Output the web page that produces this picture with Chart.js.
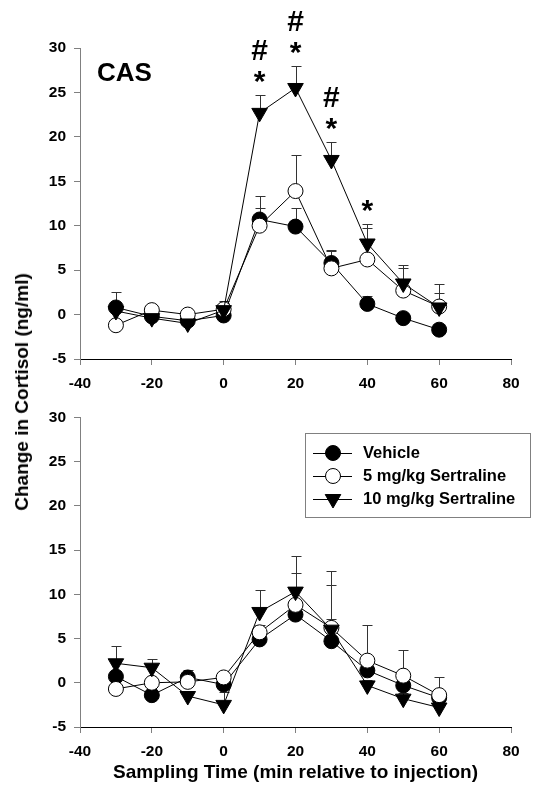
<!DOCTYPE html>
<html>
<head>
<meta charset="utf-8">
<script src="https://cdn.jsdelivr.net/npm/chart.js@4.4.0/dist/chart.umd.min.js"></script>
<style>
  body { margin: 0; background: #fff; }
  #wrap { position: relative; width: 541px; height: 788px; overflow: hidden;
          font-family: "Liberation Sans", Arial, sans-serif; }
  canvas { position: absolute; left: 0; }
  #topChart { top: 0; }
  #bottomChart { top: 400px; }
  #ytitle { position: absolute; left: 22px; top: 392px; white-space: nowrap;
            font-weight: bold; font-size: 19px;
            transform: translate(-50%, -50%) rotate(-90deg); }
  #cas { position: absolute; left: 97px; top: 57px; font-weight: bold; font-size: 26px; }
</style>
</head>
<body>
<div id="wrap">
  <canvas id="topChart" width="541" height="400"></canvas>
  <canvas id="bottomChart" width="541" height="388"></canvas>
  <div id="ytitle">Change in Cortisol (ng/ml)</div>
  <div id="cas">CAS</div>
</div>
<script>
// sampling times (min)
const times = [-30, -20, -10, 0, 10, 20, 30, 40, 50, 60];
const seriesNames = ["Vehicle", "5 mg/kg Sertraline", "10 mg/kg Sertraline"];

// top panel (CAS)
const casVehicle = [0.8, -0.2, -0.7, -0.1, 10.7, 9.9, 5.8, 1.2, -0.4, -1.7];
const casVehicleErr = [1.7, 0.5, 0.4, 1.0, 2.6, 2.1, 1.5, 0.9, 0.3, 0.3];
const cas5 = [-1.2, 0.5, 0.0, 0.6, 10.0, 13.9, 5.2, 6.2, 2.7, 0.9];
const cas5Err = [0.5, 0.4, 0.3, 0.9, 2.0, 4.1, 2.0, 3.5, 2.5, 1.5];
const cas10 = [0.4, -0.4, -1.0, 0.5, 22.7, 25.5, 17.4, 8.0, 3.5, 0.8];
const cas10Err = [0.8, 0.5, 0.4, 0.8, 2.0, 2.5, 2.0, 2.2, 2.1, 2.6];
const starTimes = [10, 20, 30, 40];
const hashTimes = [10, 20, 30];

// bottom panel
const botVehicle = [0.7, -1.4, 0.6, -0.2, 4.9, 7.7, 4.7, 1.4, -0.3, -1.7];
const botVehicleErr = [0.6, 0.5, 0.8, 0.5, 0.6, 0.8, 2.5, 0.8, 0.6, 0.5];
const bot5 = [-0.7, 0.0, 0.1, 0.6, 5.7, 8.8, 6.2, 2.5, 0.8, -1.4];
const bot5Err = [0.5, 0.5, 0.5, 0.5, 0.8, 3.6, 6.4, 4.0, 2.9, 2.0];
const bot10 = [2.2, 1.7, -1.5, -2.5, 8.0, 10.3, 6.0, -0.3, -1.8, -2.8];
const bot10Err = [1.9, 1.0, 0.6, 1.4, 2.5, 4.0, 5.1, 0.6, 0.6, 0.6];

const FONT = "'Liberation Sans', Arial, sans-serif";

function makeDatasets(v, vErr, s5, s5Err, s10, s10Err) {
  const pts = (arr) => arr.map((y, i) => ({ x: times[i], y: y }));
  return [
    { label: seriesNames[0], data: pts(v), errors: vErr, order: 3,
      borderColor: "#000", borderWidth: 1, pointStyle: "circle", pointRadius: 7.5,
      pointBackgroundColor: "#000", pointBorderColor: "#000", pointBorderWidth: 1 },
    { label: seriesNames[1], data: pts(s5), errors: s5Err, order: 2,
      borderColor: "#000", borderWidth: 1, pointStyle: "circle", pointRadius: 7.5,
      pointBackgroundColor: "#fff", pointBorderColor: "#000", pointBorderWidth: 1 },
    { label: seriesNames[2], data: pts(s10), errors: s10Err, order: 1,
      borderColor: "#000", borderWidth: 1, pointStyle: "triangle", pointRotation: 180,
      pointRadius: 9, pointBackgroundColor: "#000", pointBorderColor: "#000", pointBorderWidth: 1 }
  ];
}

// upward error bars, under the markers
const errorBars = {
  id: "errorBars",
  beforeDatasetsDraw(chart) {
    const { ctx, scales: { x, y } } = chart;
    ctx.save();
    ctx.strokeStyle = "#333";
    ctx.lineWidth = 1;
    chart.data.datasets.forEach((ds) => {
      ds.data.forEach((p, i) => {
        const px = Math.round(x.getPixelForValue(p.x)) + 0.5;
        const py = y.getPixelForValue(p.y);
        const top = Math.round(y.getPixelForValue(p.y + ds.errors[i])) + 0.5;
        ctx.beginPath();
        ctx.moveTo(px, py);
        ctx.lineTo(px, top);
        ctx.moveTo(px - 5, top);
        ctx.lineTo(px + 5, top);
        ctx.stroke();
      });
    });
    ctx.restore();
  }
};

// significance marks over the 10 mg/kg series (top panel)
const sigMarks = {
  id: "sigMarks",
  afterDatasetsDraw(chart) {
    const { ctx, scales: { x, y } } = chart;
    ctx.save();
    ctx.fillStyle = "#000";
    ctx.textAlign = "center";
    ctx.textBaseline = "middle";
    ctx.font = "bold 30px " + FONT;
    times.forEach((t, i) => {
      const px = x.getPixelForValue(t);
      const top = y.getPixelForValue(cas10[i] + cas10Err[i]);
      if (starTimes.includes(t)) ctx.fillText("*", px, top - 12);
      if (hashTimes.includes(t)) ctx.fillText("#", px, top - 43);
    });
    ctx.restore();
  }
};

// boxed legend with line + marker samples (bottom panel)
const boxLegend = {
  id: "boxLegend",
  afterDraw(chart) {
    const ctx = chart.ctx;
    const bx = 305, by = 33, bw = 225, bh = 84;
    const rows = [53, 76, 99];
    ctx.save();
    ctx.strokeStyle = "#808080";
    ctx.lineWidth = 1;
    ctx.strokeRect(bx + 0.5, by + 0.5, bw, bh);
    ctx.font = "bold 16.5px " + FONT;
    ctx.textBaseline = "middle";
    ctx.textAlign = "left";
    chart.data.datasets.forEach((ds, i) => {
      const ry = rows[i];
      ctx.strokeStyle = "#000";
      ctx.beginPath();
      ctx.moveTo(313, ry + 0.5);
      ctx.lineTo(352, ry + 0.5);
      ctx.stroke();
      ctx.fillStyle = ds.pointBackgroundColor;
      ctx.beginPath();
      if (ds.pointStyle === "circle") {
        ctx.arc(333, ry, ds.pointRadius, 0, Math.PI * 2);
      } else {
        const r = ds.pointRadius;
        ctx.moveTo(333, ry + r);
        ctx.lineTo(333 - r * 0.866, ry - r / 2);
        ctx.lineTo(333 + r * 0.866, ry - r / 2);
        ctx.closePath();
      }
      ctx.fill();
      ctx.stroke();
      ctx.fillStyle = "#000";
      ctx.fillText(ds.label, 363, ry);
    });
    ctx.restore();
  }
};

function makeOptions(padTop, xHeight, showTitle) {
  return {
    responsive: false,
    animation: false,
    layout: { padding: { left: 35, right: 30, top: padTop, bottom: 0 } },
    plugins: { legend: { display: false }, tooltip: { enabled: false } },
    elements: { line: { tension: 0 } },
    scales: {
      x: {
        type: "linear", min: -40, max: 80,
        afterFit: (s) => { s.height = xHeight; },
        border: { color: "#000", width: 1 },
        grid: { drawOnChartArea: false, drawTicks: true, tickLength: 6, color: "#808080" },
        ticks: { stepSize: 20, color: "#000", padding: 9, font: { family: FONT, weight: "bold", size: 15.5 } },
        title: { display: showTitle, text: "Sampling Time (min relative to injection)", color: "#000",
                 padding: { top: 0, bottom: 4 }, font: { family: FONT, weight: "bold", size: 19 } }
      },
      y: {
        min: -5, max: 30,
        afterFit: (s) => { s.width = 45; },
        border: { color: "#808080", width: 1 },
        grid: { drawOnChartArea: false, drawTicks: true, tickLength: 6, color: "#808080" },
        ticks: { stepSize: 5, color: "#000", padding: 8, font: { family: FONT, weight: "bold", size: 15.5 } }
      }
    }
  };
}

new Chart(document.getElementById("topChart"), {
  type: "line",
  data: { datasets: makeDatasets(casVehicle, casVehicleErr, cas5, cas5Err, cas10, cas10Err) },
  options: makeOptions(48, 41, false),
  plugins: [errorBars, sigMarks]
});

new Chart(document.getElementById("bottomChart"), {
  type: "line",
  data: { datasets: makeDatasets(botVehicle, botVehicleErr, bot5, bot5Err, bot10, bot10Err) },
  options: makeOptions(14, 61, true),
  plugins: [errorBars, boxLegend]
});
</script>
</body>
</html>
